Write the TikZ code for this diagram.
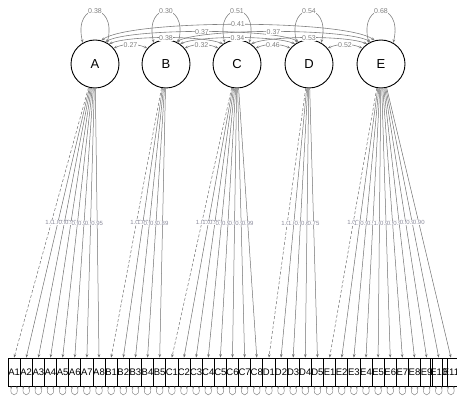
\documentclass[tikz,border=0pt]{standalone}
\usepackage{fontspec}
\setmainfont{Liberation Sans}
\usetikzlibrary{arrows.meta}
\definecolor{lncol}{HTML}{707070}
\definecolor{lblcol}{HTML}{8A8A9A}
\begin{document}
\begin{tikzpicture}[x=1pt,y=-1pt,
  lat/.style={circle,draw=black,line width=0.9pt,minimum size=48pt,inner sep=0pt,font=\fontsize{13}{13}\selectfont},
  obs/.style={draw=black,line width=0.7pt,minimum width=12.135pt,minimum height=28pt,inner sep=0pt,font=\fontsize{9.5}{9.5}\selectfont},
  loadln/.style={draw=lncol,line width=0.5pt,-{Stealth[length=3.5pt,width=2.6pt]}},
  fixedln/.style={loadln,dash pattern=on 3pt off 2pt},
  elab/.style={fill=white,inner sep=0.2pt,font=\fontsize{6}{6}\selectfont,text=lblcol},
  covln/.style={draw=gray,line width=0.6pt,{Stealth[length=3.5pt,width=2.8pt]}-{Stealth[length=3.5pt,width=2.8pt]}},
  clab/.style={fill=white,inner sep=0.5pt,font=\fontsize{7}{7}\selectfont,text=gray},
  resln/.style={draw=gray,line width=0.45pt,{Stealth[length=2.2pt,width=1.8pt]}-{Stealth[length=2.2pt,width=1.8pt]}}
]
\useasboundingbox (0,0) rectangle (457,403);

% latent variables
\node[lat] (A) at (95,64) {A};
\node[lat] (B) at (166,64) {B};
\node[lat] (C) at (237,64) {C};
\node[lat] (D) at (309,64) {D};
\node[lat] (E) at (381,64) {E};

% indicators
\foreach \lab [count=\i from 0] in {A1,A2,A3,A4,A5,A6,A7,A8,B1,B2,B3,B4,B5,C1,C2,C3,C4,C5,C6,C7,C8,D1,D2,D3,D4,D5,E1,E2,E3,E4,E5,E6,E7,E8,E9,E10,E11}
  \node[obs] (\lab) at ({8+12.135*(\i+0.5)},372) {\lab};

% loadings
\foreach \f/\list in {A/{1.01,0.98,0.96,0.98,0.96,0.92,0.95},B/{1.02,0.93,0.98,0.89},C/{1.02,0.98,0.94,0.96,0.98,0.97,0.99},D/{1.03,0.94,0.62,0.75},E/{1.02,0.98,0.96,1.00,0.98,0.96,0.98,0.96,0.95,0.90}}{
  \draw[fixedln] (\f) -- node[elab]{1.00} (\f1.north);
  \foreach \v [count=\j from 2] in \list
    \draw[loadln] (\f) -- node[elab]{\v} (\f\j.north);
}

% residual loops on indicators
\foreach \lab in {A1,A2,A3,A4,A5,A6,A7,A8,B1,B2,B3,B4,B5,C1,C2,C3,C4,C5,C6,C7,C8,D1,D2,D3,D4,D5,E1,E2,E3,E4,E5,E6,E7,E8,E9,E10,E11}
  \draw[resln] ([xshift=-2.5pt]\lab.south) .. controls +(-3,11) and +(3,11) .. ([xshift=2.5pt]\lab.south);

% latent variances
\foreach \f/\v in {A/0.38,B/0.30,C/0.51,D/0.54,E/0.68}
  \draw[covln] (\f.120) .. controls +(-10,-42) and +(10,-42) .. node[clab,pos=0.5]{\v} (\f.60);

% covariances: distance 4
\draw[covln] (A.75) .. controls +(30,-21.1) and +(-30,-21.1) .. node[clab,pos=0.5]{0.41} (E.105);
% distance 3
\draw[covln] (A.65) .. controls +(25,-13.6) and +(-25,-13.6) .. node[clab,pos=0.5]{0.37} (D.115);
\draw[covln] (B.65) .. controls +(25,-13.6) and +(-25,-13.6) .. node[clab,pos=0.5]{0.37} (E.115);
% distance 2
\draw[covln] (A.55) .. controls +(20,-8.4) and +(-20,-8.4) .. node[clab,pos=0.5]{0.38} (C.125);
\draw[covln] (B.55) .. controls +(20,-8.4) and +(-20,-8.4) .. node[clab,pos=0.5]{0.34} (D.125);
\draw[covln] (C.55) .. controls +(20,-8.4) and +(-20,-8.4) .. node[clab,pos=0.5]{0.53} (E.125);
% distance 1
\draw[covln] (A.40) .. controls +(10,-4.8) and +(-10,-4.8) .. node[clab,pos=0.5]{0.27} (B.140);
\draw[covln] (B.40) .. controls +(10,-4.8) and +(-10,-4.8) .. node[clab,pos=0.5]{0.32} (C.140);
\draw[covln] (C.40) .. controls +(10,-4.8) and +(-10,-4.8) .. node[clab,pos=0.5]{0.46} (D.140);
\draw[covln] (D.40) .. controls +(10,-4.8) and +(-10,-4.8) .. node[clab,pos=0.5]{0.52} (E.140);
\end{tikzpicture}
\end{document}
